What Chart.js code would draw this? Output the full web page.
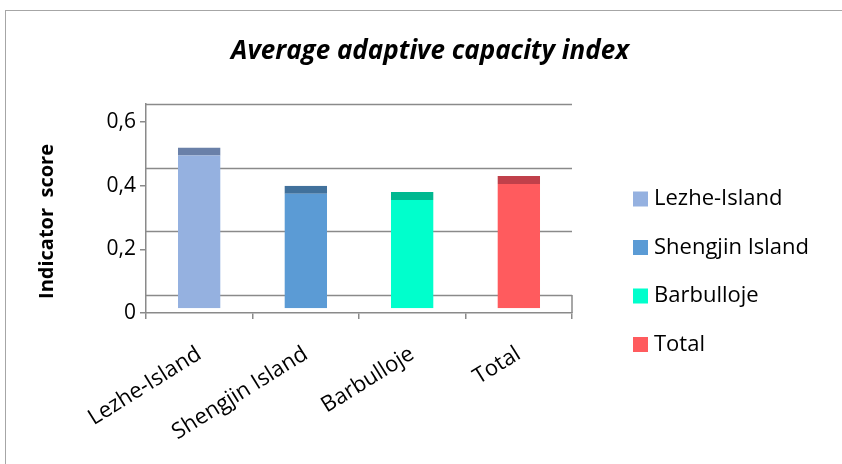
<!DOCTYPE html>
<html>
<head>
<meta charset="utf-8">
<script src="https://cdn.jsdelivr.net/npm/chart.js"></script>
<style>
  body { margin: 0; background: #fff; }
  #wrap { width: 842px; height: 464px; position: relative; }
</style>
</head>
<body>
<div id="wrap"><canvas id="chart"></canvas></div>
<script>
// data
const categories = ['Lezhe-Island', 'Shengjin Island', 'Barbulloje', 'Total'];
const scores = [0.52, 0.40, 0.38, 0.43];
const yTicks = [0, 0.2, 0.4, 0.6];

// bar colours (front face, darker top cap)
const fills = ['#95b1e0', '#5b9bd5', '#00ffcc', '#ff5b5e'];
const caps = ['#6a80a8', '#41719c', '#00b890', '#c0404a'];

const FONT = '"Open Sans", Lato, sans-serif';
const GRID = '#8a8a8a';
const depth = 0.0565; // 3d floor depth, in value units

const fixTicks = axis => { axis.ticks = yTicks.map(v => ({ value: v })); };
const comma = v => String(v).replace('.', ',');

// outer frame, back wall gridlines, right floor edge
const framePlugin = {
  id: 'frame',
  beforeDraw(chart) {
    const c = chart.ctx;
    const a = chart.chartArea;
    const y = chart.scales.y;
    c.save();
    c.fillStyle = '#fff';
    c.fillRect(0, 0, chart.width, chart.height);
    c.strokeStyle = '#a6a6a6';
    c.lineWidth = 1;
    c.strokeRect(5.5, 10.5, 900, 500);
    c.strokeStyle = GRID;
    c.lineWidth = 1.5;
    c.beginPath();
    yTicks.forEach(v => {
      const py = Math.round(y.getPixelForValue(v + depth)) + 0.5;
      c.moveTo(a.left, py);
      c.lineTo(a.right, py);
    });
    c.moveTo(a.right, y.getPixelForValue(depth));
    c.lineTo(a.right, y.getPixelForValue(0));
    c.stroke();
    c.restore();
  }
};

// legend on the right, one entry per category
const legendPlugin = {
  id: 'sideLegend',
  afterDraw(chart) {
    const c = chart.ctx;
    const a = chart.chartArea;
    const ds = chart.data.datasets[0];
    c.save();
    c.font = '22px ' + FONT;
    c.textBaseline = 'middle';
    chart.data.labels.forEach((lab, i) => {
      const x = a.right + 61;
      const yy = a.top + 95 + i * 48.5;
      c.fillStyle = ds.backgroundColor[i];
      c.fillRect(x, yy - 7.5, 15, 15);
      c.fillStyle = '#000';
      c.fillText(lab, x + 21, yy);
    });
    c.restore();
  }
};

new Chart(document.getElementById('chart'), {
  type: 'bar',
  data: {
    labels: categories,
    datasets: [{
      label: 'Average adaptive capacity index',
      data: scores,
      backgroundColor: fills,
      borderColor: caps,
      borderWidth: { top: 8, left: 0, right: 0, bottom: 0 },
      borderSkipped: false,
      base: 0.015,
      barPercentage: 0.4,
      categoryPercentage: 1
    }]
  },
  options: {
    responsive: true,
    maintainAspectRatio: false,
    animation: false,
    layout: { padding: { left: 35, right: 17, top: 0, bottom: 0 } },
    plugins: {
      title: {
        display: true,
        text: 'Average adaptive capacity index',
        color: '#000',
        font: { family: FONT, size: 26, weight: 'bold', style: 'italic', lineHeight: 1.2 },
        padding: { top: 36.4, bottom: 36.4 }
      },
      legend: { display: false },
      tooltip: { enabled: false }
    },
    scales: {
      x: {
        offset: true,
        afterFit: s => { s.height = 151; },
        grid: { drawOnChartArea: false, offset: true, tickLength: 6, color: GRID, lineWidth: 1.5 },
        border: { color: GRID, width: 1.5 },
        ticks: { color: '#000', font: { family: FONT, size: 22 }, minRotation: 32, maxRotation: 32, padding: 22 }
      },
      y: {
        min: 0,
        max: 0.6 + depth,
        afterBuildTicks: fixTicks,
        afterFit: s => { s.width = 111; },
        grid: { drawOnChartArea: false, tickLength: 6, color: GRID, lineWidth: 1.5 },
        border: { color: GRID, width: 1.5 },
        ticks: { color: '#000', font: { family: FONT, size: 21 }, callback: comma, padding: 4 },
        title: {
          display: true,
          text: 'Indicator  score     ',
          color: '#000',
          font: { family: FONT, size: 20, weight: 'bold', lineHeight: 1.2 },
          padding: { top: 0, bottom: 0 }
        }
      },
      // empty right axis, only reserves room for the legend
      yRight: {
        position: 'right',
        min: 0,
        max: 1,
        afterFit: s => { s.width = 253; },
        grid: { display: false },
        border: { display: false },
        ticks: { display: false }
      }
    }
  },
  plugins: [framePlugin, legendPlugin]
});
</script>
</body>
</html>
